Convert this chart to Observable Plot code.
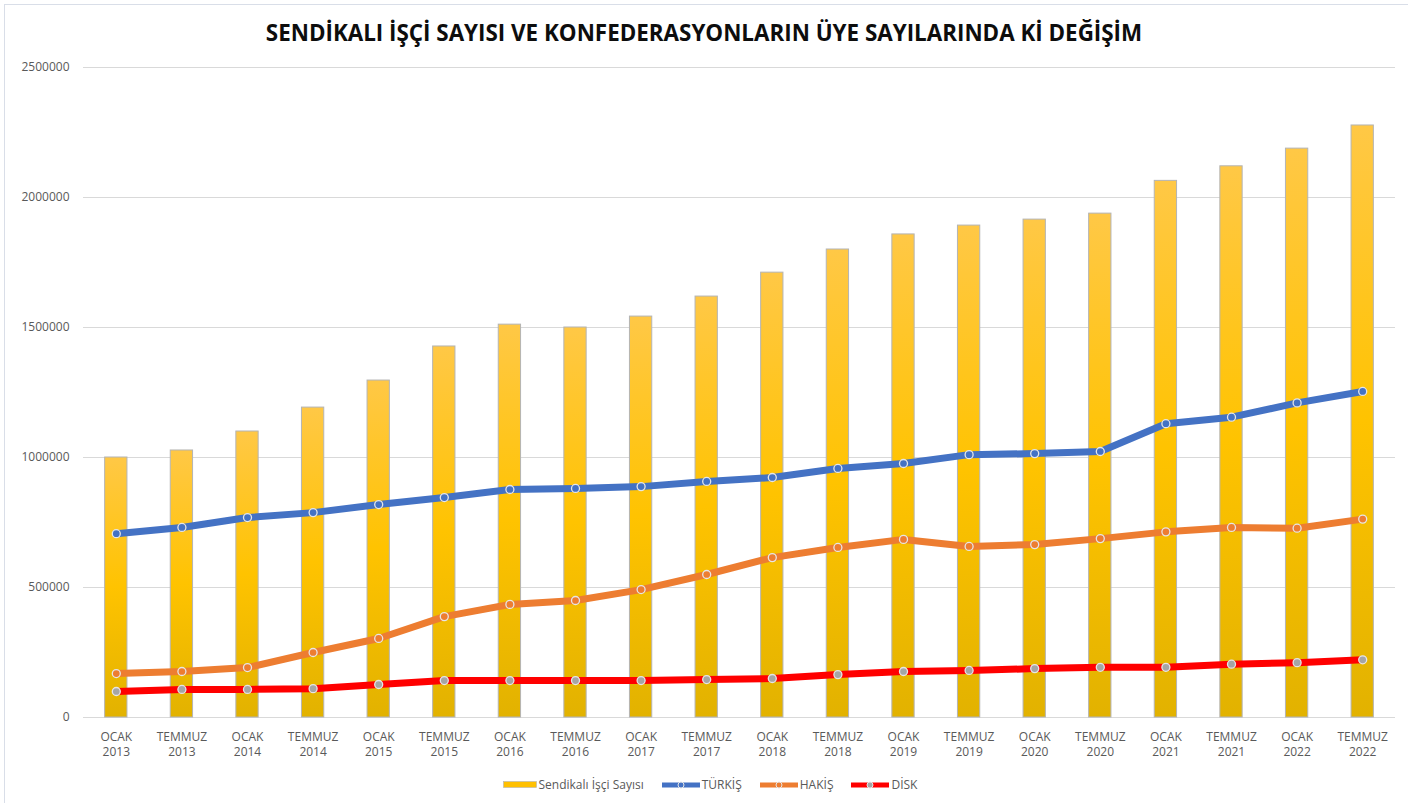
<!DOCTYPE html>
<html>
<head>
<meta charset="utf-8">
<script src="https://cdn.jsdelivr.net/npm/d3@7"></script>
<script src="https://cdn.jsdelivr.net/npm/@observablehq/plot@0.6"></script>
<style>
  html, body { margin: 0; padding: 0; background: #fff; }
  body { width: 1408px; height: 803px; overflow: hidden; position: relative; font-family: "Open Sans", sans-serif; }
  #frame { position: absolute; left: 4px; top: 4px; width: 1420px; height: 820px; border-left: 1px solid #D9DEE8; border-top: 1px solid #D9DEE8; }
  #title { position: absolute; left: 0; top: 17px; width: 1408px; text-align: center; font-size: 22.4px; font-weight: 700; color: #0d0d0d; }
  #chart { position: absolute; left: 0; top: 50px; }
  #legend { position: absolute; left: 0; top: 776px; width: 1408px; display: flex; justify-content: center; align-items: center; gap: 18px; font-size: 12px; color: #595959; padding-left: 12px; box-sizing: border-box; }
  .item { display: flex; align-items: center; gap: 2px; }
</style>
</head>
<body>
<div id="frame"></div>
<div id="title">SENDİKALI İŞÇİ SAYISI VE KONFEDERASYONLARIN ÜYE SAYILARINDA Kİ DEĞİŞİM</div>
<div id="chart"></div>
<div id="legend"></div>
<script>
const months = ["OCAK","TEMMUZ","OCAK","TEMMUZ","OCAK","TEMMUZ","OCAK","TEMMUZ","OCAK","TEMMUZ","OCAK","TEMMUZ","OCAK","TEMMUZ","OCAK","TEMMUZ","OCAK","TEMMUZ","OCAK","TEMMUZ"];
const years = ["2013","2013","2014","2014","2015","2015","2016","2016","2017","2017","2018","2018","2019","2019","2020","2020","2021","2021","2022","2022"];
const sendikali = [1000000,1027000,1100000,1192000,1296000,1427000,1511000,1500000,1542000,1619000,1711000,1800000,1858000,1892000,1915000,1938000,2064000,2120000,2188000,2277000];
const turkis = [707000,731000,769000,788000,819000,846000,877000,881000,888000,908000,923000,958000,977000,1011000,1015000,1023000,1130000,1155000,1210000,1254000];
const hakis = [169000,177000,192000,250000,304000,388000,435000,450000,492000,550000,615000,654000,685000,658000,665000,688000,714000,731000,728000,763000];
const disk = [100000,108000,108000,111000,127000,142000,142000,142000,142000,146000,150000,165000,177000,181000,188000,193000,193000,205000,211000,222000];
const yTicks = [0,500000,1000000,1500000,2000000,2500000];
const seriesNames = ["Sendikalı İşçi Sayısı","TÜRKİŞ","HAKİŞ","DİSK"];
const seriesColors = ["#FFC000","#4472C4","#ED7D31","#FF0000"];
const markerFills = [null,"#4472C4","#ED7D31","#A5A5A5"];

const cats = months.map((m,i) => m + "\n" + years[i]);
const bars = cats.map((c,i) => ({cat: c, value: sendikali[i]}));
const lineSeries = [
  {name: seriesNames[1], values: turkis, color: seriesColors[1], mfill: markerFills[1]},
  {name: seriesNames[2], values: hakis, color: seriesColors[2], mfill: markerFills[2]},
  {name: seriesNames[3], values: disk, color: seriesColors[3], mfill: markerFills[3]}
];
const lineMarks = [];
for (const s of lineSeries) {
  const d = cats.map((c,i) => ({cat: c, value: s.values[i]}));
  lineMarks.push(Plot.line(d, {x: "cat", y: "value", stroke: s.color, strokeWidth: 7, strokeLinejoin: "round", strokeLinecap: "butt"}));
}
for (const s of lineSeries) {
  const d = cats.map((c,i) => ({cat: c, value: s.values[i]}));
  lineMarks.push(Plot.dot(d, {x: "cat", y: "value", r: 4, fill: s.mfill, stroke: "#E6E6E6", strokeWidth: 1.3}));
}

const svg = Plot.plot({
  width: 1408,
  height: 718,
  marginLeft: 83,
  marginRight: 13,
  marginTop: 17,
  marginBottom: 51,
  style: {fontFamily: "'Open Sans', sans-serif", background: "transparent"},
  x: {domain: cats, paddingInner: 0.66, paddingOuter: 0.33, round: false, label: null},
  y: {domain: [0, 2500000], label: null},
  marks: [
    Plot.gridY(yTicks, {stroke: "#D9D9D9", strokeOpacity: 1, strokeWidth: 1}),
    Plot.axisY(yTicks, {tickSize: 0, tickPadding: 14, tickFormat: d => String(d), fontSize: 12, fill: "#595959", label: null}),
    Plot.axisX({tickSize: 0, tickPadding: 13, fontSize: 12, fill: "#595959", lineHeight: 1.25, label: null}),
    Plot.barY(bars, {x: "cat", y: "value", fill: "url(#barGrad)", stroke: "#B4B4B4", strokeWidth: 1}),
    ...lineMarks
  ]
});
const defs = d3.select(svg).insert("defs", ":first-child");
const g = defs.append("linearGradient").attr("id", "barGrad").attr("x1", 0).attr("y1", 0).attr("x2", 0).attr("y2", 1);
g.append("stop").attr("offset", "0%").attr("stop-color", "#FFC846");
g.append("stop").attr("offset", "50%").attr("stop-color", "#FFC300");
g.append("stop").attr("offset", "100%").attr("stop-color", "#E2B200");
document.getElementById("chart").appendChild(svg);

// legend
const legend = document.getElementById("legend");
seriesNames.forEach((name, i) => {
  const item = document.createElement("div");
  item.className = "item";
  let sw;
  if (i === 0) {
    sw = `<svg width="34" height="8"><rect x="0.5" y="0.5" width="33" height="6" fill="${seriesColors[0]}" stroke="#B4B4B4" stroke-width="0.6"/></svg>`;
  } else {
    sw = `<svg width="38" height="10"><line x1="0" y1="5" x2="38" y2="5" stroke="${seriesColors[i]}" stroke-width="5"/><circle cx="19" cy="5" r="3" fill="${markerFills[i]}" stroke="#E6E6E6" stroke-width="1"/></svg>`;
  }
  item.innerHTML = sw + `<span>${name}</span>`;
  legend.appendChild(item);
});
</script>
</body>
</html>
